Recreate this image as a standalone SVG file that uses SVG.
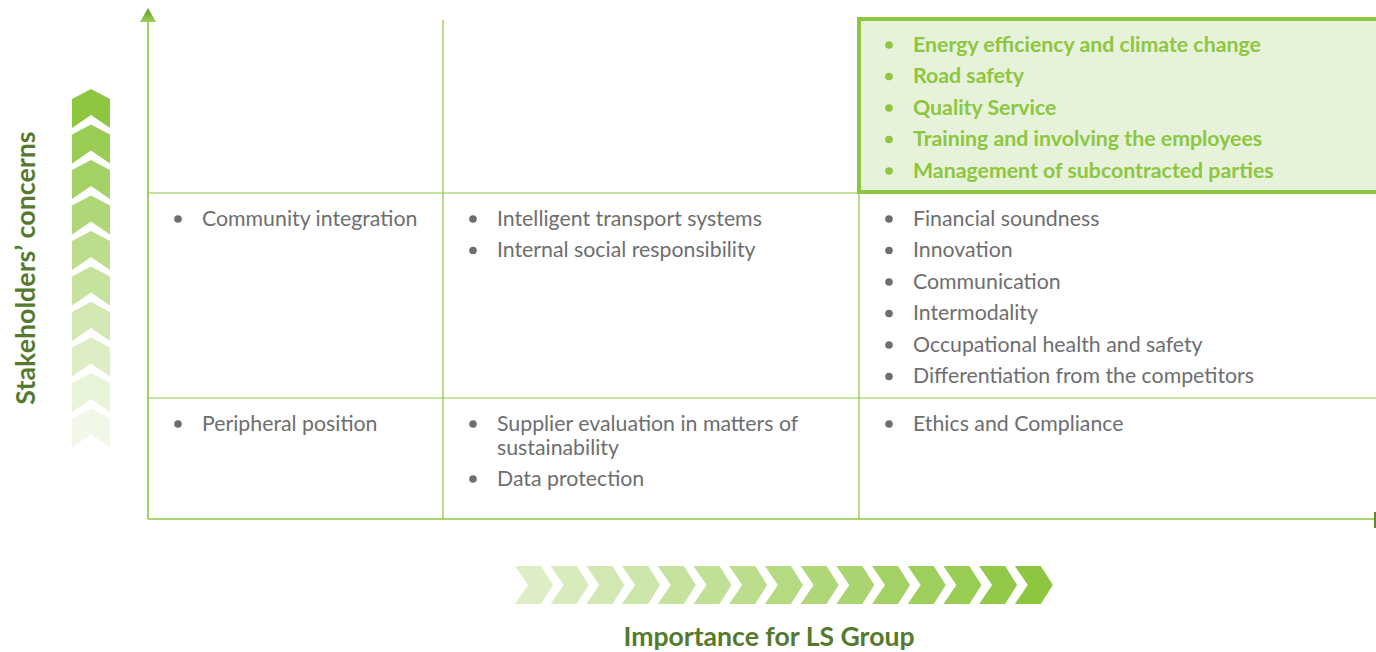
<svg xmlns="http://www.w3.org/2000/svg" width="1376" height="652" viewBox="0 0 1376 652">
  <defs>
    <style>
      .grid { stroke: #8DC63F; stroke-width: 1.2; fill: none; }
      .axis { stroke: #8DC63F; stroke-width: 1.6; fill: none; }
      .item { font-family: Lato, "Liberation Sans", sans-serif; font-size: 21.3px; fill: #6D6E70; }
      .hot { font-family: Lato, "Liberation Sans", sans-serif; font-size: 21.3px; font-weight: bold; fill: #8DC63F; }
      .dot { fill: #6D6E70; }
      .hotdot { fill: #8DC63F; }
      .title { font-family: Lato, "Liberation Sans", sans-serif; font-weight: bold; fill: #557A2E; }
      .chev { fill: #8DC63F; }
    </style>
    <linearGradient id="tipGrad" x1="0" y1="0" x2="0" y2="1">
      <stop offset="0" stop-color="#5E9A2A"/>
      <stop offset="1" stop-color="#9CD158"/>
    </linearGradient>
    <!-- upward chevron: 38 wide, 39 tall -->
    <path id="chevUp" d="M0,0 L19,10 L19,39 L0,26 L-19,39 L-19,10 Z"/>
    <!-- rightward chevron -->
    <path id="chevRight" d="M0,0 L26,0 L38,19 L26,38 L0,38 L13,19 Z"/>
  </defs>

  <!-- axes and grid -->
  <g id="connectors">
    <line class="axis" x1="148" y1="20" x2="148" y2="519"/>
    <polygon points="140,22 156,22 148,8" fill="url(#tipGrad)"/>
    <line class="axis" x1="148" y1="519" x2="1376" y2="519"/>
    <line x1="1375" y1="512" x2="1375" y2="528" stroke="#5E8A2E" stroke-width="2"/>
    <line class="grid" x1="443" y1="20" x2="443" y2="519"/>
    <line class="grid" x1="859" y1="193" x2="859" y2="519"/>
    <line class="grid" x1="148" y1="193" x2="1376" y2="193"/>
    <line class="grid" x1="148" y1="398" x2="1376" y2="398"/>
  </g>

  <!-- vertical scale: stakeholders' concerns -->
  <g id="scale-vertical">
    <use href="#chevUp" class="chev" x="91" y="89" fill-opacity="1"/>
    <use href="#chevUp" class="chev" x="91" y="124.5" fill-opacity="0.9"/>
    <use href="#chevUp" class="chev" x="91" y="160" fill-opacity="0.8"/>
    <use href="#chevUp" class="chev" x="91" y="195.5" fill-opacity="0.7"/>
    <use href="#chevUp" class="chev" x="91" y="231" fill-opacity="0.6"/>
    <use href="#chevUp" class="chev" x="91" y="266.5" fill-opacity="0.5"/>
    <use href="#chevUp" class="chev" x="91" y="302" fill-opacity="0.4"/>
    <use href="#chevUp" class="chev" x="91" y="337.5" fill-opacity="0.3"/>
    <use href="#chevUp" class="chev" x="91" y="373" fill-opacity="0.2"/>
    <use href="#chevUp" class="chev" x="91" y="408.5" fill-opacity="0.12"/>
    <text class="title" font-size="26.8" transform="translate(35,268) rotate(-90)" text-anchor="middle">Stakeholders’ concerns</text>
  </g>

  <!-- horizontal scale: importance for LS Group -->
  <g id="scale-horizontal">
    <use href="#chevRight" class="chev" x="515" y="566" fill-opacity="0.3"/>
    <use href="#chevRight" class="chev" x="550.7" y="566" fill-opacity="0.35"/>
    <use href="#chevRight" class="chev" x="586.4" y="566" fill-opacity="0.4"/>
    <use href="#chevRight" class="chev" x="622.1" y="566" fill-opacity="0.45"/>
    <use href="#chevRight" class="chev" x="657.8" y="566" fill-opacity="0.5"/>
    <use href="#chevRight" class="chev" x="693.5" y="566" fill-opacity="0.55"/>
    <use href="#chevRight" class="chev" x="729.2" y="566" fill-opacity="0.6"/>
    <use href="#chevRight" class="chev" x="764.9" y="566" fill-opacity="0.65"/>
    <use href="#chevRight" class="chev" x="800.6" y="566" fill-opacity="0.7"/>
    <use href="#chevRight" class="chev" x="836.3" y="566" fill-opacity="0.75"/>
    <use href="#chevRight" class="chev" x="872" y="566" fill-opacity="0.8"/>
    <use href="#chevRight" class="chev" x="907.7" y="566" fill-opacity="0.85"/>
    <use href="#chevRight" class="chev" x="943.4" y="566" fill-opacity="0.9"/>
    <use href="#chevRight" class="chev" x="979.1" y="566" fill-opacity="0.95"/>
    <use href="#chevRight" class="chev" x="1014.8" y="566" fill-opacity="1"/>
    <text class="title" font-size="26.6" x="769" y="646" text-anchor="middle">Importance for LS Group</text>
  </g>

  <!-- top-right cell: material topics -->
  <g id="cell-high-high">
    <rect x="859" y="19" width="522" height="173" fill="#E6F2D9" stroke="#8DC63F" stroke-width="4"/>
    <circle class="hotdot" cx="889" cy="45" r="3.8"/>
    <text class="hot" x="913" y="51.5">Energy efficiency and climate change</text>
    <circle class="hotdot" cx="889" cy="76.5" r="3.8"/>
    <text class="hot" x="913" y="83">Road safety</text>
    <circle class="hotdot" cx="889" cy="108" r="3.8"/>
    <text class="hot" x="913" y="114.5">Quality Service</text>
    <circle class="hotdot" cx="889" cy="139.5" r="3.8"/>
    <text class="hot" x="913" y="146">Training and involving the employees</text>
    <circle class="hotdot" cx="889" cy="171" r="3.8"/>
    <text class="hot" x="913" y="177.5">Management of subcontracted parties</text>
  </g>

  <g id="cell-mid-low">
    <circle class="dot" cx="178" cy="219" r="3.8"/>
    <text class="item" x="202" y="225.5">Community integration</text>
  </g>

  <g id="cell-mid-mid">
    <circle class="dot" cx="473" cy="219" r="3.8"/>
    <text class="item" x="497" y="225.5">Intelligent transport systems</text>
    <circle class="dot" cx="473" cy="250.5" r="3.8"/>
    <text class="item" x="497" y="257">Internal social responsibility</text>
  </g>

  <g id="cell-mid-high">
    <circle class="dot" cx="889" cy="219" r="3.8"/>
    <text class="item" x="913" y="225.5">Financial soundness</text>
    <circle class="dot" cx="889" cy="250.5" r="3.8"/>
    <text class="item" x="913" y="257">Innovation</text>
    <circle class="dot" cx="889" cy="282" r="3.8"/>
    <text class="item" x="913" y="288.5">Communication</text>
    <circle class="dot" cx="889" cy="313.5" r="3.8"/>
    <text class="item" x="913" y="320">Intermodality</text>
    <circle class="dot" cx="889" cy="345" r="3.8"/>
    <text class="item" x="913" y="351.5">Occupational health and safety</text>
    <circle class="dot" cx="889" cy="376.5" r="3.8"/>
    <text class="item" x="913" y="383">Differentiation from the competitors</text>
  </g>

  <g id="cell-low-low">
    <circle class="dot" cx="178" cy="424" r="3.8"/>
    <text class="item" x="202" y="430.5">Peripheral position</text>
  </g>

  <g id="cell-low-mid">
    <circle class="dot" cx="473" cy="424" r="3.8"/>
    <text class="item" x="497" y="430.5">Supplier evaluation in matters of</text>
    <text class="item" x="497" y="454.5">sustainability</text>
    <circle class="dot" cx="473" cy="479" r="3.8"/>
    <text class="item" x="497" y="485.5">Data protection</text>
  </g>

  <g id="cell-low-high">
    <circle class="dot" cx="889" cy="424" r="3.8"/>
    <text class="item" x="913" y="430.5">Ethics and Compliance</text>
  </g>
</svg>
